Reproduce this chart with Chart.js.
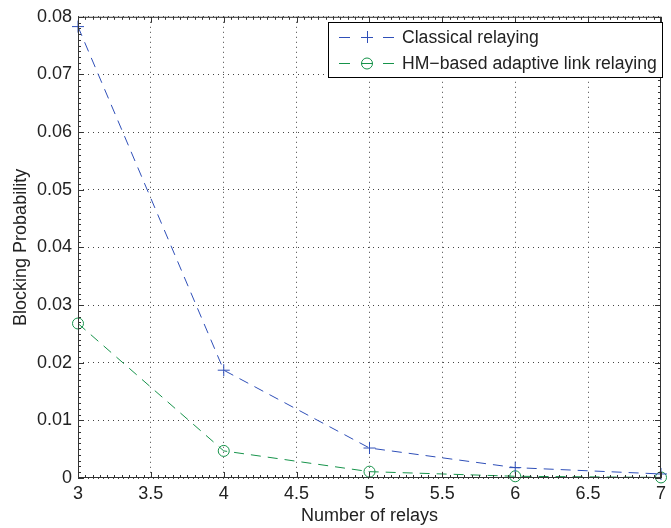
<!DOCTYPE html>
<html>
<head>
<meta charset="utf-8">
<script src="https://cdn.jsdelivr.net/npm/chart.js@4"></script>
<style>
  html, body { margin: 0; padding: 0; background: #fff; }
  #wrap { width: 671px; height: 528px; }
</style>
</head>
<body>
<div id="wrap"><canvas id="chart" width="671" height="528"></canvas></div>
<script>
// data
const relays = [3, 4, 5, 6, 7];
const classical = [0.0783, 0.0187, 0.0052, 0.0018, 0.0007];
const hmBased = [0.0268, 0.0047, 0.0011, 0.0003, 0.0001];
const xTicks = [3, 3.5, 4, 4.5, 5, 5.5, 6, 6.5, 7];
const yTicks = [0, 0.01, 0.02, 0.03, 0.04, 0.05, 0.06, 0.07, 0.08];
const seriesNames = ["Classical relaying", "HM\u2212based adaptive link relaying"];

const BLUE = "#2f4fb8";
const GREEN = "#16934a";
const FONT = "'Liberation Sans', Arial, sans-serif";

// box, minor ticks and major ticks like matlab
const axesBox = {
    id: "axesBox",
    afterDatasetsDraw(chart) {
        const { ctx, chartArea: a, scales } = chart;
        ctx.save();
        ctx.strokeStyle = "#333";
        ctx.lineWidth = 1;
        ctx.strokeRect(a.left + 0.5, a.top + 0.5, a.right - a.left - 1, a.bottom - a.top - 1);

        ctx.beginPath();
        // minor x ticks every 0.05
        for (let i = 0; i <= 80; i++) {
            const v = 3 + i * 0.05;
            const px = Math.round(scales.x.getPixelForValue(v)) + 0.5;
            const len = (i % 10 === 0) ? 6 : 3;
            ctx.moveTo(px, a.bottom); ctx.lineTo(px, a.bottom - len);
            ctx.moveTo(px, a.top); ctx.lineTo(px, a.top + len);
        }
        // minor y ticks every 0.001
        for (let i = 0; i <= 80; i++) {
            const v = i * 0.001;
            const py = Math.round(scales.y.getPixelForValue(v)) + 0.5;
            const len = (i % 10 === 0) ? 6 : 3;
            ctx.moveTo(a.left, py); ctx.lineTo(a.left + len, py);
            ctx.moveTo(a.right, py); ctx.lineTo(a.right - len, py);
        }
        ctx.stroke();
        ctx.restore();
    }
};

// legend box in the upper right corner
const legendBox = {
    id: "legendBox",
    afterDraw(chart) {
        const { ctx } = chart;
        const x0 = 328, y0 = 22, x1 = 663, y1 = 78;
        ctx.save();
        ctx.fillStyle = "#fff";
        ctx.fillRect(x0, y0, x1 - x0, y1 - y0);
        ctx.strokeStyle = "#000";
        ctx.lineWidth = 1;
        ctx.strokeRect(x0 + 0.5, y0 + 0.5, x1 - x0 - 1, y1 - y0 - 1);

        const rows = [
            { y: 37, color: BLUE, marker: "cross", text: seriesNames[0] },
            { y: 63, color: GREEN, marker: "circle", text: seriesNames[1] }
        ];
        rows.forEach(r => {
            ctx.strokeStyle = r.color;
            ctx.lineWidth = 1;
            ctx.beginPath();
            ctx.moveTo(339, r.y + 0.5); ctx.lineTo(350, r.y + 0.5);
            ctx.moveTo(383, r.y + 0.5); ctx.lineTo(394, r.y + 0.5);
            ctx.stroke();
            ctx.beginPath();
            if (r.marker === "cross") {
                ctx.moveTo(361, r.y + 0.5); ctx.lineTo(373, r.y + 0.5);
                ctx.moveTo(367.5, r.y - 6); ctx.lineTo(367.5, r.y + 6);
            } else {
                ctx.arc(367, r.y + 0.5, 5.5, 0, Math.PI * 2);
                ctx.moveTo(361, r.y + 0.5); ctx.lineTo(373, r.y + 0.5);
            }
            ctx.stroke();
            ctx.fillStyle = "#222";
            ctx.font = "17.6px " + FONT;
            ctx.textBaseline = "middle";
            ctx.fillText(r.text, 402, r.y + 1);
        });
        ctx.restore();
    }
};

new Chart(document.getElementById("chart"), {
    type: "line",
    data: {
        datasets: [
            {
                label: seriesNames[0],
                data: relays.map((x, i) => ({ x: x, y: classical[i] })),
                borderColor: BLUE,
                backgroundColor: BLUE,
                borderWidth: 1,
                borderDash: [10, 7],
                pointStyle: "cross",
                pointRadius: 6,
                pointBorderWidth: 1,
                pointBorderColor: BLUE,
                tension: 0,
                clip: false
            },
            {
                label: seriesNames[1],
                data: relays.map((x, i) => ({ x: x, y: hmBased[i] })),
                borderColor: GREEN,
                backgroundColor: "rgba(0,0,0,0)",
                borderWidth: 1,
                borderDash: [10, 7],
                pointStyle: "circle",
                pointRadius: 5.5,
                pointBorderWidth: 1,
                pointBorderColor: GREEN,
                tension: 0,
                clip: false
            }
        ]
    },
    options: {
        responsive: false,
        animation: false,
        layout: { padding: { left: 0, right: 8, top: 15, bottom: 0 } },
        plugins: {
            legend: { display: false },
            tooltip: { enabled: false }
        },
        scales: {
            x: {
                type: "linear",
                min: 3, max: 7,
                afterBuildTicks: s => { s.ticks = xTicks.map(v => ({ value: v })); },
                afterFit: s => { s.height = 50; },
                ticks: {
                    color: "#222",
                    font: { family: FONT, size: 18 },
                    padding: 5,
                    maxRotation: 0,
                    callback: v => String(v)
                },
                grid: {
                    color: "#444",
                    drawTicks: false,
                    tickLength: 0
                },
                border: { display: false, dash: [1, 4] },
                title: {
                    display: true,
                    text: "Number of relays",
                    color: "#222",
                    font: { family: FONT, size: 18 },
                    padding: { top: 0, bottom: 1 }
                }
            },
            y: {
                type: "linear",
                min: 0, max: 0.08,
                afterBuildTicks: s => { s.ticks = yTicks.map(v => ({ value: v })); },
                afterFit: s => { s.width = 78; },
                ticks: {
                    color: "#222",
                    font: { family: FONT, size: 18 },
                    padding: 6,
                    callback: v => String(+v.toFixed(2))
                },
                grid: {
                    color: "#444",
                    drawTicks: false,
                    tickLength: 0
                },
                border: { display: false, dash: [1, 4] },
                title: {
                    display: true,
                    text: "Blocking Probability",
                    color: "#222",
                    font: { family: FONT, size: 18 },
                    padding: { top: 10, bottom: 0 }
                }
            }
        }
    },
    plugins: [axesBox, legendBox]
});
</script>
</body>
</html>
